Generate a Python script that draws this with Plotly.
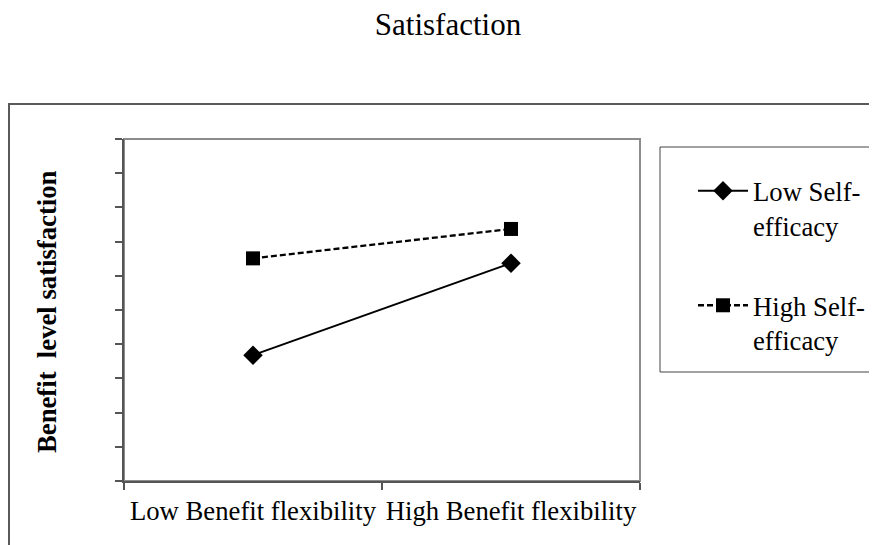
import plotly.graph_objects as go

categories = ["Low Benefit flexibility", "High Benefit flexibility"]
low_self_efficacy = [3.68, 6.37]
high_self_efficacy = [6.51, 7.37]
series_names = ["Low Self-<br>efficacy", "High Self-<br>efficacy"]

FONT = "Liberation Serif, Times New Roman, serif"
OFF = 8  # page body margin
W, H = 869, 537
L, T = 124 - OFF, 139 - OFF
pw, ph = 516, 342
R, B = W - L - pw, H - T - ph

def px(x):  # screen x -> paper
    return (x - OFF - L) / pw

def py(y):  # screen y -> paper
    return (T + ph - (y - OFF)) / ph

fig = go.Figure()
fig.add_trace(go.Scatter(
    x=categories, y=low_self_efficacy, name=series_names[0],
    mode="lines+markers", legendgroup="a",
    line=dict(color="black", width=2, dash="solid"),
    marker=dict(symbol="diamond", size=15, color="black"),
))
fig.add_trace(go.Scatter(
    x=categories, y=high_self_efficacy, name=series_names[1],
    mode="lines+markers", legendgroup="b",
    line=dict(color="black", width=2.3, dash="6px,3px"),
    marker=dict(symbol="square", size=14, color="black"),
))

fig.update_layout(
    width=W, height=H,
    margin=dict(l=L, r=R, t=T, b=B, autoexpand=False),
    paper_bgcolor="white", plot_bgcolor="white",
    font=dict(family=FONT, size=26.7, color="black"),
    title=dict(text="Satisfaction", x=px(448), xref="paper", xanchor="center",
               y=1, yanchor="top", pad=dict(t=5),
               font=dict(family=FONT, size=31, color="black")),
    showlegend=True,
    legend=dict(x=px(693), xanchor="left", y=py(167), yanchor="top",
                bgcolor="rgba(0,0,0,0)", borderwidth=0,
                font=dict(family=FONT, size=26.7, color="black"),
                itemwidth=50, tracegroupgap=42, valign="top"),
    xaxis=dict(type="category", range=[-0.5, 1.5], tickson="boundaries",
               tickangle=0, automargin=False, ticklabelstandoff=5,
               showline=True, linecolor="#555555", linewidth=2,
               ticks="outside", ticklen=7, tickwidth=2, tickcolor="#555555",
               showgrid=False, zeroline=False,
               tickfont=dict(family=FONT, size=26.7, color="black")),
    yaxis=dict(range=[0, 10], dtick=1, showticklabels=False, automargin=False,
               showline=True, linecolor="#555555", linewidth=2,
               ticks="outside", ticklen=7, tickwidth=2, tickcolor="#555555",
               showgrid=False, zeroline=False),
    shapes=[
        dict(type="rect", xref="paper", yref="paper",
             x0=px(9), x1=px(900), y0=py(600), y1=py(104),
             line=dict(color="#5a5a5a", width=2), layer="below"),
        dict(type="rect", xref="paper", yref="paper",
             x0=0, x1=1, y0=0, y1=1,
             line=dict(color="#8c8c8c", width=2), layer="below"),
        dict(type="rect", xref="paper", yref="paper",
             x0=px(660), x1=px(876.5), y0=py(372), y1=py(147),
             line=dict(color="#444444", width=1)),
    ],
    annotations=[
        dict(text="<b>Benefit\u00a0 level satisfaction</b>", xref="paper", yref="paper",
             x=px(47), y=py(312), xanchor="center", yanchor="middle",
             textangle=-90, showarrow=False,
             font=dict(family=FONT, size=26.7, color="black")),
    ],
)

fig.write_html("out.html")
